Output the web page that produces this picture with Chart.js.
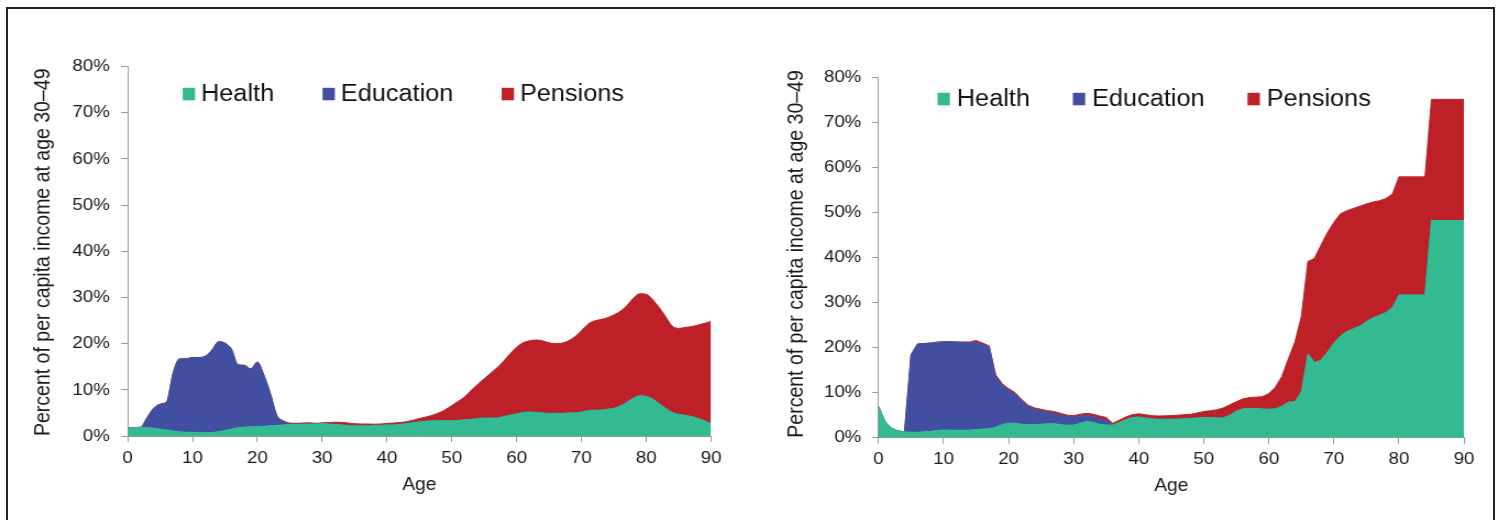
<!DOCTYPE html>
<html>
<head>
<meta charset="utf-8">
<script src="https://cdn.jsdelivr.net/npm/chart.js@4/dist/chart.umd.min.js"></script>
<style>
    html, body { margin: 0; padding: 0; background: #fff; overflow: hidden; }
    body { width: 1499px; height: 520px; position: relative; }
    .frame { position: absolute; left: 6px; top: 7px; width: 1485px; height: 600px; border: 2px solid #222; }
    /* source figure is a bit stretched horizontally */
    .panel { position: absolute; top: 0; width: 682px; height: 520px; transform: scaleX(1.1); transform-origin: 0 0; }
</style>
</head>
<body>
<div class="frame"></div>
<div class="panel" style="left:0"><canvas id="chartLeft"></canvas></div>
<div class="panel" style="left:750px"><canvas id="chartRight"></canvas></div>
<script>
// ages 0..90 on the x axis
const ages = Array.from({ length: 91 }, (_, i) => i);
const seriesNames = ['Health', 'Education', 'Pensions'];
const seriesColors = ['#33BA92', '#424FA0', '#BD2026'];
const yTicks = [0, 10, 20, 30, 40, 50, 60, 70, 80];
const xTicks = [0, 10, 20, 30, 40, 50, 60, 70, 80, 90];

// left panel, % of per capita income at age 30-49
const leftHealth = [
    1.7, 1.8, 1.9, 1.8, 1.7, 1.5, 1.3, 1.1, 0.9, 0.8,
    0.8, 0.75, 0.7, 0.75, 0.9, 1.2, 1.5, 1.8, 1.9, 2.0,
    2.0, 2.1, 2.2, 2.3, 2.4, 2.45, 2.5, 2.55, 2.6, 2.6,
    2.7, 2.6, 2.5, 2.4, 2.3, 2.2, 2.2, 2.2, 2.3, 2.3,
    2.4, 2.4, 2.5, 2.7, 2.9, 3.1, 3.2, 3.3, 3.3, 3.3,
    3.3, 3.4, 3.5, 3.6, 3.8, 3.9, 3.9, 3.9, 4.2, 4.5,
    4.8, 5.1, 5.2, 5.1, 5.0, 4.9, 4.9, 4.9, 5.0, 5.0,
    5.2, 5.5, 5.6, 5.6, 5.8, 6.0, 6.5, 7.3, 8.2, 8.7,
    8.6, 8.0, 7.0, 6.0, 5.1, 4.7, 4.5, 4.2, 3.8, 3.3,
    2.6
];
const leftEducation = [
    0, 0, 0, 2.2, 4.3, 5.4, 6.1, 12.5, 15.8, 15.9,
    16.2, 16.25, 16.6, 17.85, 19.5, 18.9, 17.3, 13.6, 13.4, 12.5,
    14.0, 11.1, 7.0, 2.2, 0.8, 0.2, 0.1, 0, 0, 0,
    0, 0, 0, 0, 0, 0, 0, 0, 0, 0,
    0, 0, 0, 0, 0, 0, 0, 0, 0, 0,
    0, 0, 0, 0, 0, 0, 0, 0, 0, 0,
    0, 0, 0, 0, 0, 0, 0, 0, 0, 0,
    0, 0, 0, 0, 0, 0, 0, 0, 0, 0,
    0, 0, 0, 0, 0, 0, 0, 0, 0, 0,
    0
];
const leftPensions = [
    0, 0, 0, 0, 0, 0, 0, 0, 0, 0,
    0, 0, 0, 0, 0, 0, 0, 0, 0, 0,
    0, 0, 0, 0, 0.1, 0.15, 0.15, 0.25, 0.25, 0.15,
    0.15, 0.3, 0.5, 0.55, 0.5, 0.45, 0.4, 0.4, 0.25, 0.3,
    0.3, 0.4, 0.4, 0.4, 0.5, 0.7, 0.9, 1.2, 1.7, 2.4,
    3.3, 4.1, 5.0, 6.3, 7.4, 8.5, 9.7, 10.9, 12.0, 13.3,
    14.4, 15.1, 15.4, 15.7, 15.6, 15.3, 15.1, 15.2, 15.6, 16.5,
    17.6, 18.7, 19.3, 19.6, 19.8, 20.2, 20.5, 20.9, 21.6, 22.1,
    22.1, 21.5, 20.8, 19.8, 18.7, 18.6, 19.0, 19.5, 20.2, 21.1,
    22.2
];

// right panel
const rightHealth = [
    6.9, 3.6, 2.1, 1.5, 1.3, 1.2, 1.2, 1.3, 1.4, 1.6,
    1.7, 1.7, 1.65, 1.65, 1.7, 1.8, 1.9, 2.0, 2.3, 2.9,
    3.25, 3.2, 3.0, 2.9, 2.9, 3.0, 3.1, 3.1, 2.9, 2.75,
    2.8, 3.2, 3.6, 3.4, 3.0, 2.8, 2.8, 3.4, 4.0, 4.5,
    4.6, 4.4, 4.2, 4.1, 4.1, 4.1, 4.15, 4.2, 4.3, 4.4,
    4.5, 4.5, 4.4, 4.4, 5.0, 5.9, 6.4, 6.5, 6.5, 6.4,
    6.3, 6.4, 7.0, 7.9, 8.0, 10.2, 18.6, 16.7, 17.2, 19.0,
    21.0, 22.6, 23.6, 24.2, 24.8, 25.8, 26.6, 27.2, 27.8, 28.9,
    31.7, 31.7, 31.7, 31.7, 31.7, 48.2, 48.2, 48.2, 48.2, 48.2,
    48.2
];
const rightEducation = [
    0, 0, 0, 0, 0, 17.2, 19.6, 19.6, 19.6, 19.6,
    19.6, 19.6, 19.6, 19.55, 19.5, 19.3, 18.8, 18.2, 11.4, 8.8,
    7.35, 6.5, 5.2, 4.0, 3.4, 3.0, 2.6, 2.3, 2.1, 1.95,
    1.8, 1.6, 1.4, 1.3, 1.3, 1.1, 0, 0, 0, 0,
    0, 0, 0, 0, 0, 0, 0, 0, 0, 0,
    0, 0, 0, 0, 0, 0, 0, 0, 0, 0,
    0, 0, 0, 0, 0, 0, 0, 0, 0, 0,
    0, 0, 0, 0, 0, 0, 0, 0, 0, 0,
    0, 0, 0, 0, 0, 0, 0, 0, 0, 0,
    0
];
const rightPensions = [
    0, 0, 0, 0, 0, 0, 0, 0, 0, 0,
    0, 0, 0, 0, 0, 0.5, 0.3, 0.2, 0.3, 0.3,
    0.3, 0.3, 0.3, 0.3, 0.3, 0.3, 0.3, 0.4, 0.4, 0.3,
    0.3, 0.4, 0.4, 0.5, 0.5, 0.6, 0.4, 0.5, 0.6, 0.6,
    0.7, 0.7, 0.7, 0.7, 0.75, 0.8, 0.85, 0.9, 0.9, 1.1,
    1.3, 1.5, 1.8, 2.2, 2.3, 2.1, 2.2, 2.4, 2.5, 2.7,
    3.5, 4.8, 6.6, 9.6, 13.2, 16.7, 20.5, 23.1, 25.5, 26.5,
    26.8, 27.1, 26.8, 26.7, 26.6, 26.1, 25.7, 25.4, 25.3, 25.2,
    26.2, 26.2, 26.2, 26.2, 26.2, 26.9, 26.9, 26.9, 26.9, 26.9,
    26.9
];

Chart.defaults.font.family = '"Liberation Sans", Arial, sans-serif';
Chart.defaults.color = '#1a1a1a';

// legend drawn inside the plot area, like the source
const areaLegend = {
    id: 'areaLegend',
    afterDraw(chart, args, opts) {
        const ctx = chart.ctx;
        ctx.save();
        ctx.font = '23px "Liberation Sans", Arial, sans-serif';
        ctx.textAlign = 'left';
        ctx.textBaseline = 'alphabetic';
        let x = chart.chartArea.left + opts.offsetX;
        chart.data.datasets.forEach(ds => {
            ctx.fillStyle = ds.backgroundColor;
            ctx.fillRect(x, opts.baseline - 13, 11.2, 12.5);
            ctx.fillStyle = '#111';
            ctx.fillText(ds.label, x + opts.textGap, opts.baseline);
            x += opts.textGap + ctx.measureText(ds.label).width + opts.itemGap;
        });
        ctx.restore();
    }
};

window.renderAgeChart = function (canvasId, health, education, pensions, lay) {
    const canvas = document.getElementById(canvasId);
    if (!canvas) {
        console.error(`Canvas element with id ${canvasId} not found`);
        return null;
    }
    const ctx = canvas.getContext('2d');
    const values = [health, education, pensions];

    const config = {
        type: 'line',
        data: {
            labels: ages,
            datasets: values.map((v, i) => ({
                label: seriesNames[i],
                data: v,
                backgroundColor: seriesColors[i],
                borderColor: seriesColors[i],
                borderWidth: 1,
                fill: i === 0 ? 'origin' : '-1'
            }))
        },
        options: {
            responsive: true,
            maintainAspectRatio: false,
            animation: false,
            layout: { padding: lay.padding },
            elements: {
                point: { radius: 0 },
                line: { tension: lay.tension, cubicInterpolationMode: lay.mode }
            },
            plugins: {
                legend: { display: false },
                tooltip: { enabled: false },
                areaLegend: lay.legend
            },
            scales: {
                x: {
                    type: 'linear',
                    min: 0,
                    max: 90,
                    afterBuildTicks: s => { s.ticks = xTicks.map(v => ({ value: v })); },
                    afterFit: s => { s.height = lay.xAxisHeight; },
                    ticks: { padding: lay.xTickPad, font: { size: 17 }, color: '#1a1a1a' },
                    grid: { drawOnChartArea: false, tickLength: 6, color: '#999' },
                    border: { color: '#999' },
                    title: {
                        display: true,
                        text: 'Age',
                        font: { size: 17.5 },
                        color: '#1a1a1a',
                        padding: { top: 0, bottom: lay.ageTitlePad }
                    }
                },
                y: {
                    stacked: true,
                    min: 0,
                    max: 80,
                    afterBuildTicks: s => { s.ticks = yTicks.map(v => ({ value: v })); },
                    afterFit: s => { s.width = lay.yAxisWidth; },
                    ticks: {
                        padding: lay.yTickPad,
                        font: { size: 17 },
                        color: '#1a1a1a',
                        callback: v => v + '%'
                    },
                    grid: { drawOnChartArea: false, tickLength: 6, color: '#999' },
                    border: { color: '#999' },
                    title: {
                        display: true,
                        text: 'Percent of per capita income at age 30–49',
                        align: 'start',
                        font: { size: 19.5 },
                        color: '#1a1a1a',
                        padding: { top: 4, bottom: 0 }
                    }
                }
            }
        },
        plugins: [areaLegend]
    };

    return new Chart(ctx, config);
};

renderAgeChart('chartLeft', leftHealth, leftEducation, leftPensions, {
    padding: { left: 23.5, top: 66.5, right: 35.6, bottom: 0 },
    yAxisWidth: 92.6,
    xAxisHeight: 84,
    xTickPad: 6.5,
    yTickPad: 10.3,
    ageTitlePad: 24.8,
    tension: 0.4,
    mode: 'monotone',
    legend: { offsetX: 50, baseline: 100.8, textGap: 16.6, itemGap: 44 }
});

renderAgeChart('chartRight', rightHealth, rightEducation, rightPensions, {
    padding: { left: 26.5, top: 77.3, right: 32.9, bottom: 0 },
    yAxisWidth: 90.3,
    xAxisHeight: 82.3,
    xTickPad: 5.5,
    yTickPad: 9.6,
    ageTitlePad: 23.6,
    tension: 0,
    mode: 'default',
    legend: { offsetX: 53.7, baseline: 105.8, textGap: 17.5, itemGap: 39 }
});
</script>
</body>
</html>
